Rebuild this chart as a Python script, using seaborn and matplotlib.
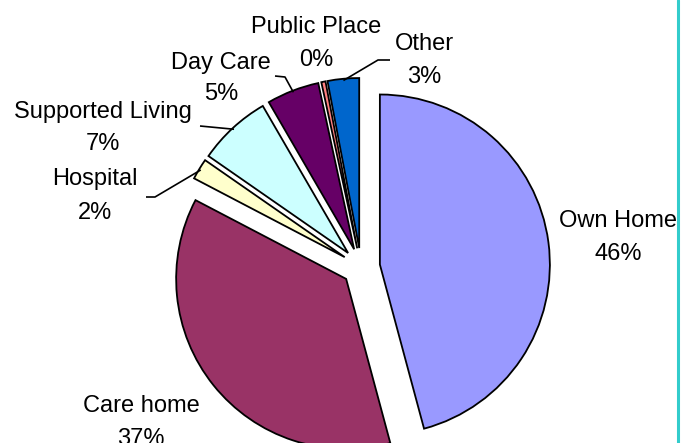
import matplotlib
matplotlib.use("Agg")
import matplotlib.pyplot as plt
import seaborn as sns
import numpy as np
from matplotlib.lines import Line2D

# 数据
places = ["Own Home", "Care home", "Hospital", "Supported Living", "Day Care", "Public Place", "Other"]
shares = [46.0, 37.0, 2.0, 7.0, 5.0, 0.4, 3.0]
colors = ["#9999FF", "#993366", "#FFFFCC", "#CCFFFF", "#660066", "#FF8080", "#0066CC"]

sns.set_theme(style="white")
plt.rcParams['font.family'] = ['Liberation Sans', 'DejaVu Sans']

W, H = 681, 443
R_PX = 170.0          # pie radius in pixels
CX, CY = 361, 267     # pie centre in pixels (from top-left)
FS = 17


def px(x, y):
    """像素坐标 -> 数据坐标"""
    return (x - CX) / R_PX, (CY - y) / R_PX


# label baselines (name, percent) in pixels
label_pos = {
    "Own Home": (618, 227, 260),
    "Care home": (141, 412, 445),
    "Hospital": (95, 185, 219),
    "Supported Living": (103, 118, 150),
    "Day Care": (221, 69, 100),
    "Public Place": (316, 33, 66),
    "Other": (424, 50, 83),
}
# leader lines: label-side points in pixels, end point taken from the wedge
leaders = {
    "Other": [(390, 60), (378, 60)],
    "Day Care": [(275, 76), (285, 77)],
    "Supported Living": [(200, 126)],
    "Hospital": [(146, 197), (155, 197)],
}

fig = plt.figure(figsize=(W / 100, H / 100), dpi=100)
ax = fig.add_axes([0, 0, 1, 1])

wedges, _ = ax.pie(shares, colors=colors, startangle=90, counterclock=False,
                   explode=[0.112] * len(shares),
                   wedgeprops=dict(edgecolor="black", linewidth=1.3))

x0, y0 = px(0, 0)
x1, y1 = px(W, H)
ax.set_xlim(x0, x1)
ax.set_ylim(y1, y0)
ax.set_aspect("equal")
ax.axis("off")

total = sum(shares)
for name, val, w in zip(places, shares, wedges):
    lx, by1, by2 = label_pos[name]
    xa, ya = px(lx, by1)
    xb, yb = px(lx, by2)
    ax.text(xa, ya, name, ha="center", va="baseline", fontsize=FS, color="black")
    ax.text(xb, yb, f"{val / total * 100:.0f}%", ha="center", va="baseline",
            fontsize=FS, color="black")
    if name in leaders:
        mid = np.deg2rad((w.theta1 + w.theta2) / 2)
        ex = w.center[0] + w.r * 0.99 * np.cos(mid)
        ey = w.center[1] + w.r * 0.99 * np.sin(mid)
        pts = [px(*p) for p in leaders[name]] + [(ex, ey)]
        ax.plot([p[0] for p in pts], [p[1] for p in pts], color="black", lw=1.2,
                solid_capstyle="butt")

# teal border on the right
fig.add_artist(Line2D([678 / W, 678 / W], [0, 1], transform=fig.transFigure,
                      color="#33CCCC", lw=2.2))

plt.savefig("out.png", dpi=100)
